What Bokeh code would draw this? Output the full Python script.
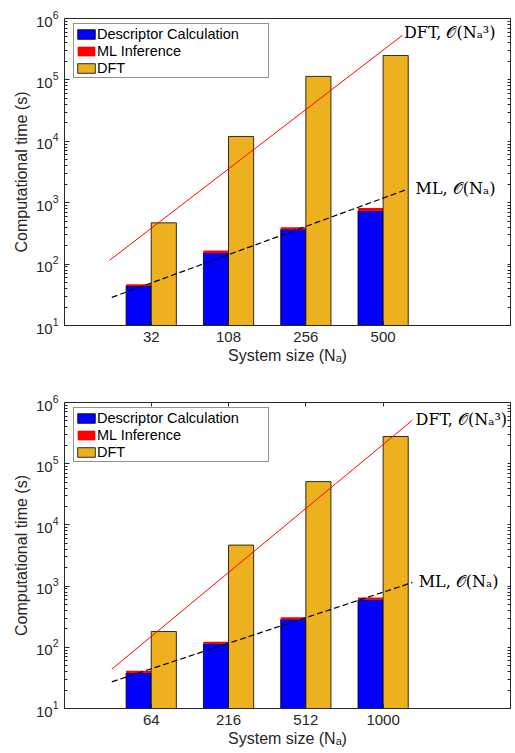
from bokeh.plotting import figure
from bokeh.layouts import column
from bokeh.models import (Range1d, FixedTicker, LinearAxis, LogAxis, Label,
                          Legend, LegendItem, ColumnDataSource)
from bokeh.embed import file_html
from bokeh.resources import INLINE

# ---------------- data ----------------
sizes_top = ["32", "108", "256", "500"]
desc_top = [44, 152, 366, 730]
ml_top = [3, 14, 34, 86]
dft_top = [470, 12000, 114000, 250000]
dft_fit_x_top = [0.46, 4.25]
dft_fit_y_top = [115, 533000]
ml_fit_x_top = [0.49, 4.31]
ml_fit_y_top = [28.7, 1650]

sizes_bot = ["64", "216", "512", "1000"]
desc_bot = [38, 114, 284, 597]
ml_bot = [3.4, 9, 27, 54]
dft_bot = [181, 4680, 51000, 278000]
dft_fit_x_bot = [0.49, 4.38]
dft_fit_y_bot = [44, 515000]
ml_fit_x_bot = [0.49, 4.38]
ml_fit_y_bot = [27.3, 1146]

series_names = ["Descriptor Calculation", "ML Inference", "DFT"]
dft_label = "DFT, \U0001D4AA(N\u2090\u00B3)"
ml_label = "ML, \U0001D4AA(N\u2090)"

BLUE = "#0000FF"
RED = "#FF0000"
ORANGE = "#EDB120"
AXC = "#262626"
SANS = "Liberation Sans"
SERIF = "DejaVu Serif"

BAR_W = 0.325
decades = [10 ** k for k in range(1, 7)]
minors = [m * 10 ** k for k in range(1, 6) for m in range(2, 10)]


def make_panel(sizes, desc, ml, dft, dfx, dfy, mlx, mly, dft_lab_pos, ml_lab_pos,
               height, border_top, border_bottom, top_ticks):
    idx = list(range(1, len(sizes) + 1))
    tot = [d + m for d, m in zip(desc, ml)]
    src = ColumnDataSource(dict(
        xl=[i - BAR_W / 2 for i in idx],
        xr=[i + BAR_W / 2 for i in idx],
        desc=desc, tot=tot, dft=dft,
        base=[1] * len(idx),
    ))
    p = figure(width=515, height=height,
               x_range=Range1d(-0.122, 5.648), y_range=Range1d(10, 1e6),
               y_axis_type="log", output_backend="svg", toolbar_location=None,
               min_border_left=64, min_border_right=5, min_border_top=border_top,
               min_border_bottom=border_bottom)
    p.xgrid.visible = False
    p.ygrid.visible = False
    p.outline_line_color = AXC
    p.outline_line_width = 1
    p.background_fill_color = "white"

    r_desc = p.vbar(x="xl", top="desc", bottom="base", width=BAR_W, source=src,
                    fill_color=BLUE, line_color="black", line_width=0.8)
    r_ml = p.vbar(x="xl", top="tot", bottom="desc", width=BAR_W, source=src,
                  fill_color=RED, line_color=None)
    r_dft = p.vbar(x="xr", top="dft", bottom="base", width=BAR_W, source=src,
                   fill_color=ORANGE, line_color="black", line_width=0.8)

    p.line(dfx, dfy, line_color=RED, line_width=1)
    p.line(mlx, mly, line_color="black", line_width=1.2, line_dash="6 3")

    p.add_layout(Label(x=dft_lab_pos[0], y=dft_lab_pos[1], text=dft_label,
                       text_font=SERIF, text_font_size="16px",
                       text_baseline="middle", text_align="left", text_color="black"))
    p.add_layout(Label(x=ml_lab_pos[0], y=ml_lab_pos[1], text=ml_label,
                       text_font=SERIF, text_font_size="16px",
                       text_baseline="middle", text_align="left", text_color="black"))

    # y axis
    ya = p.yaxis[0]
    ya.ticker = FixedTicker(ticks=decades, minor_ticks=minors)
    ya.axis_label = "Computational time (s)"
    ya.axis_label_text_font = SANS
    ya.axis_label_text_font_size = "16px"
    ya.axis_label_text_font_style = "normal"
    ya.axis_label_text_color = AXC
    ya.axis_label_standoff = 3
    ya.major_label_text_font = SANS
    ya.major_label_text_font_size = "15px"
    ya.major_label_text_color = AXC
    ya.major_label_standoff = 6
    ya.major_tick_in = 5
    ya.major_tick_out = 0
    ya.minor_tick_in = 3
    ya.minor_tick_out = 0
    ya.axis_line_color = AXC
    ya.major_tick_line_color = AXC
    ya.minor_tick_line_color = AXC

    # x axis
    xa = p.xaxis[0]
    xa.ticker = FixedTicker(ticks=idx)
    xa.major_label_overrides = {i: s for i, s in zip(idx, sizes)}
    xa.axis_label = "System size (N\u2090)"
    xa.axis_label_text_font = SANS
    xa.axis_label_text_font_size = "16px"
    xa.axis_label_text_font_style = "normal"
    xa.axis_label_text_color = AXC
    xa.axis_label_standoff = 2
    xa.major_label_text_font = SANS
    xa.major_label_text_font_size = "15px"
    xa.major_label_text_color = AXC
    xa.major_label_standoff = 6
    xa.major_tick_in = 4
    xa.major_tick_out = 0
    xa.minor_tick_line_color = None
    xa.axis_line_color = AXC
    xa.major_tick_line_color = AXC

    # right axis (ticks only)
    ra = LogAxis(ticker=FixedTicker(ticks=[], minor_ticks=decades + minors),
                 minor_tick_in=3, minor_tick_out=0, major_label_standoff=0,
                 axis_line_color=AXC, minor_tick_line_color=AXC)
    p.add_layout(ra, "right")

    if top_ticks:
        ta = LinearAxis(ticker=FixedTicker(ticks=[], minor_ticks=idx),
                        minor_tick_in=4, minor_tick_out=0, major_label_standoff=0,
                        axis_line_color=AXC, minor_tick_line_color=AXC)
        p.add_layout(ta, "above")

    frame_h = height - border_top - border_bottom
    leg_h = 3 * 17 + 2
    legend = Legend(items=[LegendItem(label=series_names[0], renderers=[r_desc]),
                           LegendItem(label=series_names[1], renderers=[r_ml]),
                           LegendItem(label=series_names[2], renderers=[r_dft])],
                    location=(9, frame_h - 7 - leg_h),
                    orientation="vertical",
                    label_text_font=SANS, label_text_font_size="14.5px",
                    label_text_color="black",
                    glyph_width=22, glyph_height=12, label_height=17,
                    label_width=170, label_standoff=0, spacing=0, padding=1,
                    margin=0, border_line_color=AXC, border_line_width=1,
                    background_fill_color="white", background_fill_alpha=1)
    p.add_layout(legend)
    return p


p1 = make_panel(sizes_top, desc_top, ml_top, dft_top,
                dft_fit_x_top, dft_fit_y_top, ml_fit_x_top, ml_fit_y_top,
                (4.27, 590000), (4.42, 1730), 392, 18, 67, False)
p2 = make_panel(sizes_bot, desc_bot, ml_bot, dft_bot,
                dft_fit_x_bot, dft_fit_y_bot, ml_fit_x_bot, ml_fit_y_bot,
                (4.42, 521000), (4.46, 1175), 360, 10, 44, True)

layout = column(p1, p2, spacing=0)
open("out.html", "w").write(file_html(layout, INLINE))
